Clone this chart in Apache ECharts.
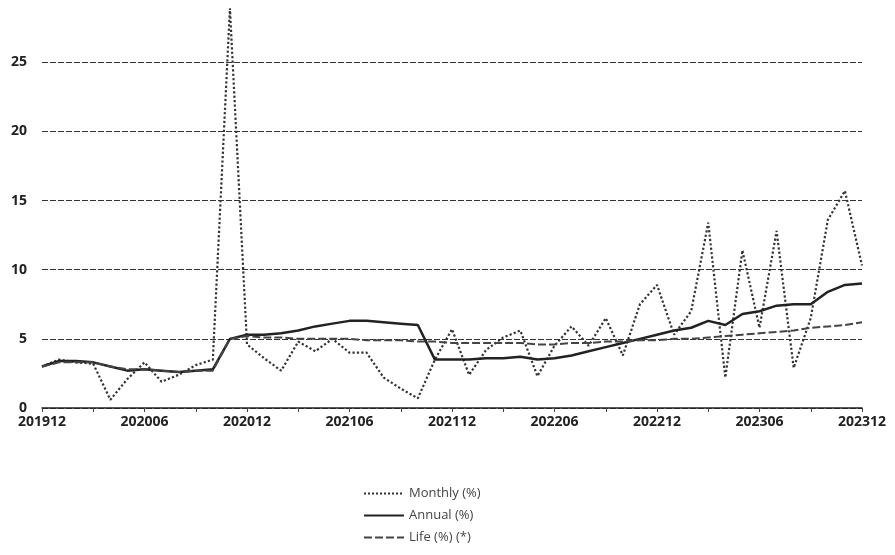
<!DOCTYPE html>
<html><head><meta charset="utf-8">
<script src="https://cdn.jsdelivr.net/npm/echarts@6/dist/echarts.min.js"></script>
<style>html,body{margin:0;padding:0;background:#fff}#c{width:895px;height:555px}</style>
</head><body><div id="c"></div>
<script>
const categories = ['201912','202001','202002','202003','202004','202005','202006','202007','202008','202009','202010','202011',
'202012','202101','202102','202103','202104','202105','202106','202107','202108','202109','202110','202111',
'202112','202201','202202','202203','202204','202205','202206','202207','202208','202209','202210','202211',
'202212','202301','202302','202303','202304','202305','202306','202307','202308','202309','202310','202311','202312'];
const monthly = [3.0,3.5,3.3,3.2,0.6,2.1,3.3,1.9,2.4,3.1,3.5,28.9,
4.6,3.6,2.7,4.8,4.1,5.0,4.0,4.0,2.2,1.4,0.7,3.5,
5.7,2.4,4.2,5.1,5.6,2.3,4.5,5.9,4.5,6.5,3.8,7.5,
8.9,5.3,7.0,13.4,2.2,11.4,5.8,12.8,2.9,6.5,13.6,15.7,10.3];
const annual = [3.0,3.4,3.4,3.3,3.0,2.7,2.8,2.7,2.6,2.7,2.8,5.0,
5.3,5.3,5.4,5.6,5.9,6.1,6.3,6.3,6.2,6.1,6.0,3.5,
3.5,3.5,3.6,3.6,3.7,3.5,3.6,3.8,4.1,4.4,4.7,5.0,
5.3,5.6,5.8,6.3,6.0,6.8,7.0,7.4,7.5,7.5,8.4,8.9,9.0];
const life = [3.0,3.3,3.3,3.3,3.0,2.8,2.8,2.7,2.6,2.7,2.7,5.0,
5.2,5.1,5.1,5.0,5.0,5.0,5.0,4.9,4.9,4.9,4.8,4.8,
4.7,4.7,4.7,4.7,4.7,4.6,4.6,4.7,4.7,4.8,4.8,4.9,
4.9,5.0,5.0,5.1,5.2,5.3,5.4,5.5,5.6,5.8,5.9,6.0,6.2];
const yTicks = [0,5,10,15,20,25];
const yMax = 29.5;
const seriesNames = ['Monthly (%)','Annual (%)','Life (%) (*)'];

const chart = echarts.init(document.getElementById('c'));
chart.setOption({
  animation:false,
  backgroundColor:'#fff',
  grid:{left:42,right:33,top:0,bottom:147,containLabel:false},
  legend:{
    data:seriesNames, orient:'vertical', left:358, top:482, itemGap:9,
    itemWidth:40, itemHeight:10,
    itemStyle:{opacity:0},
    textStyle:{fontFamily:'Open Sans',fontSize:13,color:'#444'}
  },
  xAxis:{
    type:'category', data:categories, boundaryGap:false,
    axisLine:{lineStyle:{color:'#222',width:1.5}},
    axisTick:{show:true,interval:2,length:4,inside:false,lineStyle:{color:'#444'}},
    axisLabel:{interval:5,margin:7,fontFamily:'Open Sans',fontWeight:'bold',fontSize:14,color:'#222'},
    splitLine:{show:false}
  },
  yAxis:{
    type:'value', min:0, max:yMax, interval:5,
    axisLine:{show:false}, axisTick:{show:false},
    axisLabel:{margin:15,fontFamily:'Open Sans',fontWeight:'bold',fontSize:14,color:'#222',
      formatter:v=>yTicks.indexOf(v)>=0?String(v):''},
    splitLine:{lineStyle:{color:['#333','#333','#333','#333','#333','#333','rgba(0,0,0,0)'],width:1.2,type:[6,2]}}
  },
  series:[
    {name:seriesNames[0],type:'line',data:monthly,symbol:'none',
      lineStyle:{color:'#333',width:2.2,type:'dotted'},itemStyle:{color:'#333'}},
    {name:seriesNames[1],type:'line',data:annual,symbol:'none',
      lineStyle:{color:'#222',width:2.5,type:'solid'},itemStyle:{color:'#222'}},
    {name:seriesNames[2],type:'line',data:life,symbol:'none',
      lineStyle:{color:'#444',width:2,type:[8,3]},itemStyle:{color:'#444'}}
  ]
});
</script></body></html>
